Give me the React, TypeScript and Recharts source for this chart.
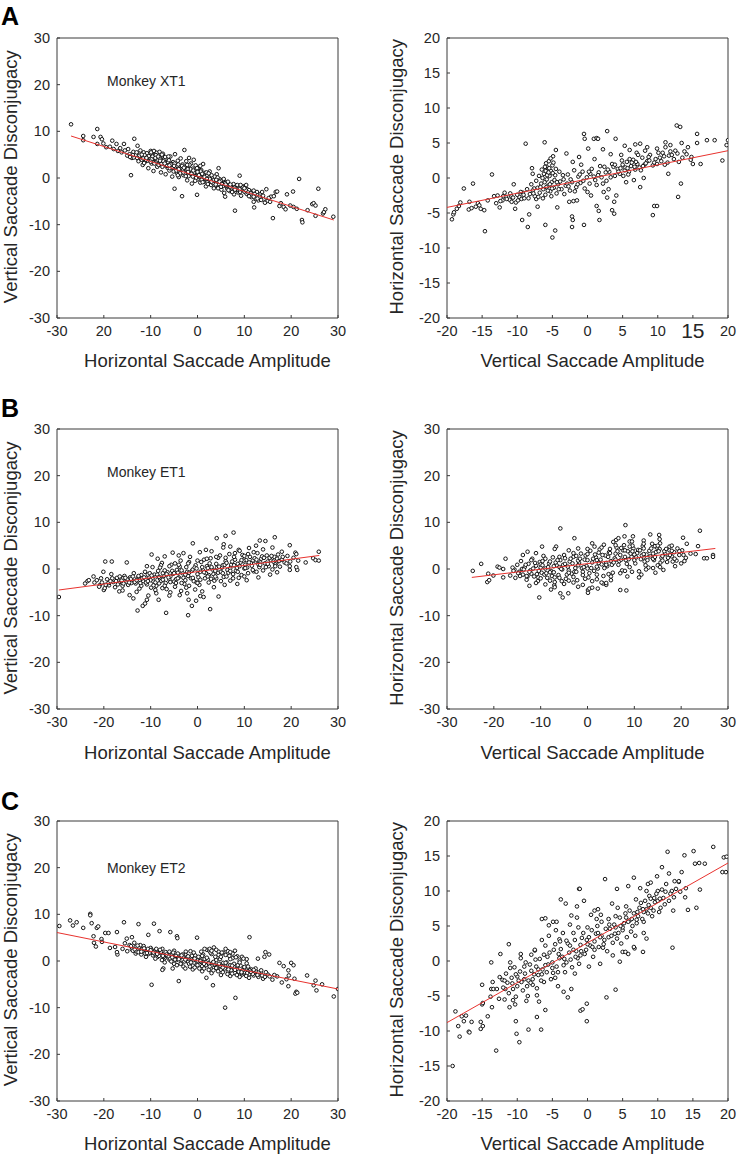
import { ScatterChart, Scatter, XAxis, YAxis } from 'recharts'

type Pt = [number, number]

const FONT = '"Liberation Sans", Arial, Helvetica, sans-serif'
const INK = '#262626'
const FRAME = '#3a3a3a'
const FIT_RED = '#e8322e'

// tick values
const ticks30 = [-30, -20, -10, 0, 10, 20, 30]
const ticks20 = [-20, -15, -10, -5, 0, 5, 10, 15, 20]
// panel A left prints "20" where -20 should be, kept as in the figure
const xt1HorizTickLabels = ['-30', '20', '-10', '0', '10', '20', '30']

// A left: Monkey XT1, horizontal amplitude vs vertical disconjugacy
const xt1Horiz: Pt[] = [
  [-27.0,11.5],[-24.4,9.0],[-24.4,8.1],[-22.2,8.8],[-21.4,10.5],[-21.4,7.3],[-20.7,8.8],[-20.4,8.3],[-20.1,7.4],[-19.5,6.6],
  [-18.7,6.7],[-18.2,8.0],[-17.9,6.2],[-17.3,7.3],[-17.0,5.8],[-16.5,6.4],[-16.2,5.5],[-15.7,7.3],[-15.5,5.9],[-15.0,4.8],
  [-14.8,6.2],[-14.5,5.1],[-14.2,0.6],[-14.0,4.3],[-13.7,5.6],[-13.5,8.4],[-13.2,4.9],[-12.8,6.9],[-12.6,3.6],[-12.3,5.3],
  [-12.0,4.1],[-11.7,2.8],[-11.5,5.5],[-11.2,3.5],[-11.0,4.6],[-10.8,5.3],[-10.5,2.1],[-10.3,4.0],[-10.0,5.8],[-9.8,3.1],
  [-9.6,4.8],[-9.4,1.5],[-9.2,5.6],[-9.0,3.8],[-8.8,4.5],[-8.6,2.4],[-8.4,5.0],[-8.2,3.3],[-8.0,4.4],[-7.8,1.2],
  [-7.6,3.9],[-7.4,5.2],[-7.2,2.7],[-7.0,3.5],[-6.8,0.8],[-6.6,4.1],[-6.4,2.2],[-6.2,3.0],[-6.0,1.6],[-5.8,4.6],
  [-5.6,2.5],[-5.4,0.3],[-5.2,3.4],[-5.0,1.9],[-4.9,-2.3],[-4.8,5.1],[-4.6,2.8],[-4.4,1.1],[-4.2,3.7],[-4.0,0.2],
  [-3.8,2.3],[-3.6,4.2],[-3.4,1.5],[-3.3,-3.9],[-3.2,2.9],[-3.0,0.6],[-2.8,6.0],[-2.6,1.8],[-2.4,3.6],[-2.2,-0.5],
  [-2.0,2.4],[-1.8,4.3],[-1.6,1.0],[-1.4,3.1],[-1.2,-1.2],[-1.0,2.0],[-0.8,3.9],[-0.6,0.4],[-0.4,2.7],[-0.2,1.4],
  [-0.1,-3.6],[0.0,-0.3],[0.2,2.2],[0.4,0.9],[0.6,-1.0],[0.8,1.7],[1.0,0.2],[1.2,3.0],[1.4,-0.8],[1.6,1.1],
  [1.8,-1.8],[2.0,0.5],[2.3,-0.6],[2.6,1.4],[2.9,-1.5],[3.2,0.0],[3.5,-2.2],[3.8,-0.7],[4.1,0.8],[4.5,2.1],
  [4.4,-1.6],[4.8,-0.3],[5.1,-2.5],[5.4,-1.2],[5.7,-3.2],[5.9,-4.0],[6.0,-0.9],[6.3,-2.0],[6.6,-1.4],[6.9,-2.8],
  [7.2,-1.6],[7.5,-2.4],[7.8,-3.5],[8.0,-7.0],[8.1,-1.7],[8.4,-2.6],[8.7,-3.1],[9.0,0.5],[9.0,-2.0],[9.3,-3.8],
  [9.6,-2.5],[9.9,-1.8],[10.2,-3.0],[10.4,-1.5],[10.6,-2.4],[10.9,-3.6],[11.2,-2.8],[11.5,-4.1],[11.8,-3.2],[12.0,-5.1],
  [12.1,-6.3],[12.4,-4.4],[12.7,-3.0],[13.0,-4.8],[13.4,-3.5],[13.8,-3.0],[14.1,-4.6],[14.4,-5.3],[14.7,-2.4],[15.0,-4.9],
  [15.5,-5.1],[15.7,-4.0],[16.1,-8.6],[16.3,-3.9],[16.7,-3.0],[17.0,-2.9],[17.5,-6.0],[17.8,-5.4],[18.4,-6.2],[18.8,-6.7],
  [19.1,-3.5],[19.8,-5.9],[20.4,-2.9],[20.5,-6.2],[21.2,-6.6],[21.7,-0.2],[22.3,-9.0],[22.4,-9.5],[23.5,-6.9],[24.5,-5.6],
  [24.8,-5.4],[25.2,-5.9],[25.2,-8.1],[25.8,-2.3],[26.8,-7.6],[27.0,-7.3],[27.3,-6.7],[29.0,-8.3],
  [-12.4,4.8],[-11.9,3.9],[-11.3,4.9],[-10.7,3.7],[-10.1,4.3],[-9.5,3.4],[-9.1,4.1],[-8.7,3.6],[-8.3,2.8],[-7.9,3.3],
  [-7.5,2.4],[-7.1,4.0],[-6.7,2.9],[-6.3,3.4],[-5.9,2.1],[-5.5,3.0],[-5.1,1.4],[-4.7,2.3],[-4.3,2.6],[-3.9,1.3],
  [-3.5,2.0],[-3.1,1.7],[-2.7,0.9],[-2.3,1.5],[-1.9,0.4],[-1.5,1.9],[-1.1,0.7],[-0.7,1.2],[-0.3,0.0],[0.1,1.0],
  [0.5,0.3],[0.9,-0.4],[1.3,0.6],[1.7,-0.2],[2.1,-0.9],[2.5,0.1],[2.8,-0.4],[3.3,-1.1],[3.7,0.3],[4.2,-0.9],
  [4.6,-1.3],[5.0,-0.6],[5.5,-1.7],[5.9,-1.1],[6.4,-2.4],[6.8,-1.8],[7.3,-2.2],[7.7,-1.3],[8.3,-2.3],[8.8,-2.7],
  [9.4,-2.3],[10.0,-2.9],[10.5,-3.4],[11.0,-2.6],[11.6,-3.7],[12.2,-3.4],[13.3,-4.0],[14.0,-3.8],[15.2,-4.3],
  [-9.9,5.5],[-9.3,5.8],[-8.7,5.4],[-8.1,5.6],[-7.6,5.0],[-9.6,4.6],
  [-11.6,4.2],[-11.0,3.9],[-10.4,4.7],[-9.8,4.0],[-9.2,3.1],[-8.9,4.9],[-8.5,3.9],[-8.1,4.2],[-7.7,3.0],[-7.3,3.6],
  [-6.9,4.5],[-6.5,2.6],[-6.1,3.8],[-5.7,2.9],[-5.3,2.2],[-4.9,3.1],[-4.5,1.6],[-4.1,2.9],[-3.7,1.0],[-3.3,2.6],
  [-2.9,2.2],[-2.5,0.4],[-2.1,1.9],[-1.7,2.8],[-1.3,0.9],[-0.9,1.6],[-0.5,-0.6],[-0.1,2.1],[0.3,0.6],[0.7,1.4],
  [1.1,-0.9],[1.5,0.2],[1.9,1.2],[2.2,-1.3],[2.6,-0.2],[3.0,0.6],[3.4,-0.5],[3.9,-1.4],[4.3,0.1],[4.7,-0.8],
  [5.2,-1.3],[5.6,-0.2],[6.1,-1.6],[6.5,-0.8],[7.0,-1.9],[7.4,-3.0],[7.9,-2.1],[8.5,-1.5],[9.1,-3.0],[9.7,-2.0],
  [10.3,-2.6],[10.8,-3.1],[11.4,-3.3],[12.0,-4.0],[12.8,-4.4],[13.6,-4.7],[-14.4,4.5],[-13.6,4.4],[-13.0,5.5],[-12.2,5.9],
  [-13.8,4.9],[-12.9,4.3],[-11.9,5.0],[-10.9,4.3],[-10.0,3.5],[-9.0,4.3],[-8.0,3.7],[-7.0,3.1],[-6.0,2.7],[-5.0,2.6],
  [-4.0,1.9],[-3.0,1.2],[-2.0,1.3],[-1.0,0.3],[0.0,1.3],[1.0,0.9],[2.0,-0.2],[3.0,-0.8],[4.0,-0.4],[5.0,-1.9],
  [6.0,-1.4],[7.0,-1.4],[8.0,-2.5],[9.0,-2.4],[10.0,-2.2],[11.0,-3.9],[12.0,-2.7],[-11.4,3.2],[-8.4,4.6],[-6.2,4.6],
  [-4.2,0.6],[-2.2,2.8],[0.6,2.6],[2.4,1.0],[4.4,-2.2],[6.6,-2.6],[9.2,-1.5],
]
const xt1HorizFit: Pt[] = [[-27, 9.0], [29.1, -9.0]]

// A right: Monkey XT1, vertical amplitude vs horizontal disconjugacy
const xt1Vert: Pt[] = [
  [-19.3,-5.9],[-19.1,-5.2],[-19.0,-4.9],[-18.6,-4.4],[-18.3,-4.0],[-18.1,-3.5],[-17.6,-1.5],[-16.9,-4.5],[-16.8,-3.4],[-16.5,-4.3],
  [-16.3,-0.8],[-15.9,-4.1],[-15.6,-3.6],[-15.4,-3.9],[-15.2,-4.4],[-14.7,-4.6],[-14.6,-7.6],[-14.2,-3.2],[-13.6,0.5],[-13.3,-2.6],
  [-13.0,-3.6],[-12.8,-2.5],[-12.5,-4.2],[-12.1,-3.2],[-11.6,-2.7],[-11.1,-3.1],[-10.9,-2.5],[-10.5,-0.9],[-10.3,-4.4],[-10.2,-3.5],
  [-9.7,-2.7],[-9.4,-3.0],[-9.3,-6.0],[-9.2,-2.1],[-8.8,4.9],[-8.5,-7.0],[-8.3,-5.2],[-7.9,1.4],[-7.8,0.6],[-7.6,-1.5],
  [-7.3,-3.0],[-7.1,-4.1],[-6.1,5.1],[-6.0,-6.7],[-5.0,-8.5],[-4.6,-7.5],[-4.9,3.1],[-4.5,4.0],[-4.3,-4.2],[-2.6,-3.4],
  [-2.2,-5.5],[-2.1,-6.0],[-2.2,-7.0],[-2.0,-3.3],[-0.5,6.3],[-0.4,5.6],[-0.5,-6.7],[0.1,4.2],[0.9,5.6],[1.3,5.7],
  [1.5,5.6],[1.3,-4.0],[1.6,-4.7],[1.7,-6.0],[2.8,6.7],[2.8,-2.8],[4.0,5.6],[3.8,-3.4],[3.5,-4.6],[3.8,-5.1],
  [4.1,-2.5],[5.3,4.6],[6.8,4.8],[7.5,4.9],[7.5,-1.3],[8.0,0.0],[8.2,3.9],[8.5,4.4],[9.3,-5.3],[9.5,-4.0],
  [9.9,-4.0],[9.9,4.2],[11.1,4.4],[11.1,5.1],[11.5,0.6],[11.8,4.7],[12.7,7.5],[13.2,7.3],[12.9,-2.7],[13.3,-0.8],
  [13.4,5.0],[14.3,4.4],[14.7,2.6],[15.0,2.0],[15.6,6.3],[15.6,5.0],[16.1,2.0],[17.0,5.4],[18.1,5.4],[19.2,2.5],
  [19.8,4.7],[20.0,5.4],
  [-12.0,-2.6],[-11.5,-3.0],[-11.0,-2.2],[-10.6,-2.8],[-10.0,-2.4],[-9.5,-2.0],[-9.0,-2.9],[-8.6,-1.6],[-8.2,-2.3],[-8.0,-0.9],
  [-7.8,-1.8],[-7.5,-2.6],[-7.3,-0.4],[-7.1,-1.4],[-6.9,0.3],[-6.8,-2.1],[-6.6,-0.8],[-6.5,1.2],[-6.3,-1.6],[-6.2,0.6],
  [-6.0,-2.4],[-5.9,2.1],[-5.8,-0.2],[-5.7,1.5],[-5.6,-1.1],[-5.5,2.4],[-5.4,0.3],[-5.3,-1.9],[-5.2,1.0],[-5.1,-0.6],
  [-5.0,1.8],[-4.8,-1.4],[-4.6,0.4],[-4.4,-2.2],[-4.2,-0.9],[-4.0,0.9],[-3.7,-1.6],[-3.4,-0.2],[-3.1,-1.1],[-2.8,0.5],
  [-2.5,-1.8],[-2.2,-0.6],[-1.9,1.1],[-1.6,-1.3],[-1.3,0.2],[-1.0,-0.7],[-0.7,0.9],[-0.4,-1.5],[-0.1,0.1],[0.3,-0.8],
  [0.6,1.3],[0.9,0.2],[1.3,-1.0],[1.6,0.8],[2.0,0.1],[2.4,1.6],[2.7,-0.4],[3.1,0.9],[3.5,2.0],[3.9,0.3],
  [4.3,1.3],[4.6,0.6],[5.0,1.9],[5.3,1.1],[5.6,2.3],[5.9,0.9],[6.2,1.7],[6.5,2.6],[6.8,1.2],[7.1,2.0],
  [7.4,1.5],[7.8,2.9],[8.1,1.9],[8.5,2.4],[8.9,3.3],[9.3,1.8],[9.7,2.7],[10.1,3.6],[10.5,2.4],[10.9,3.1],
  [11.4,2.2],[11.8,3.8],[12.3,2.7],[12.8,3.5],[13.5,2.9],[14.1,3.4],[14.8,3.0],
  [3.3,3.4],[2.2,4.1],[-1.2,3.0],[-2.1,2.3],[-3.0,3.5],[-0.9,1.9],[1.0,2.7],[4.8,3.3],[6.0,4.0],[7.0,3.6],
  [0.5,-2.5],[2.3,-2.0],[-1.5,-3.2],[5.5,-0.6],[6.6,-0.3],[3.0,-1.6],
  [-7.0,-2.7],[-6.7,-1.3],[-6.4,0.0],[-6.1,-0.6],[-5.95,1.0],[-5.75,0.4],[-5.65,-1.8],[-5.45,1.4],[-5.35,-0.9],[-5.25,2.8],
  [-5.15,-2.6],[-4.95,0.7],[-4.7,-0.3],[-4.5,1.3],[-4.1,-1.6],[-3.9,-0.5],[-3.3,-2.3],[-2.9,-0.8],[-2.4,-0.2],[-1.8,-1.9],
  [-1.1,0.5],[-0.6,-0.4],[0.0,-2.0],[0.4,0.6],[1.1,-0.3],[1.8,1.7],[2.2,-0.8],[2.9,1.2],[3.3,0.1],[3.7,1.6],
  [4.4,0.9],[4.9,2.5],[5.4,1.5],[5.8,0.5],[6.3,2.2],[6.7,1.6],[7.2,3.3],[7.6,1.1],[8.3,2.1],[8.7,3.0],
  [9.5,2.2],[10.3,2.9],[11.0,1.9],[11.6,3.2],[12.5,3.9],[13.8,3.8],[-12.4,-3.3],[-11.8,-2.1],[-10.8,-3.4],[-9.9,-3.2],
  [-9.1,-2.4],[-8.4,-2.9],[-7.7,-2.2],
  [-6.35,-2.9],[-6.05,1.6],[-5.85,-1.3],[-5.55,0.8],[-5.05,-1.5],[-4.85,2.2],[-4.35,-0.6],[-3.5,0.4],[-2.7,-1.2],[-1.4,-0.9],
  [0.2,0.9],[1.5,0.4],[2.6,0.8],[3.9,1.9],[4.7,1.4],[5.1,0.3],[5.7,1.4],[6.0,2.7],[6.9,2.3],[7.9,1.7],
  [8.8,2.5],[9.9,2.0],[10.7,3.6],[12.0,3.3],[13.0,2.3],
]
const xt1VertFit: Pt[] = [[-20, -4.2], [20, 3.9]]

// B left: Monkey ET1, horizontal
const et1Horiz: Pt[] = [
  [-29.6,-6.0],[-24.0,-3.1],[-23.5,-2.6],[-23.2,-2.4],[-22.2,-1.6],[-22.0,-2.9],[-20.8,-3.4],[-20.0,-4.5],[-20.1,-0.6],[-19.7,1.6],
  [-18.3,1.6],[-16.7,-4.8],[-15.1,1.4],[-14.5,-5.6],[-13.7,-6.3],[-12.8,-8.9],[-11.7,-7.9],[-11.2,-7.4],[-10.8,-6.6],[-10.5,-5.7],
  [-9.8,3.1],[-8.3,-6.6],[-6.7,-9.4],[-5.3,3.5],[-1.9,-6.6],[-2.0,-9.9],[-1.0,5.5],[-1.2,-7.9],[-0.3,-6.8],[0.6,-5.8],
  [1.3,-6.0],[2.7,-8.6],[4.5,-5.9],[4.1,6.6],[6.0,7.1],[7.7,7.8],[5.6,5.3],[8.8,4.1],[13.3,6.1],[14.5,6.0],
  [16.5,6.8],[19.7,5.1],[18.0,3.7],[19.7,0.6],[19.7,-0.2],[21.3,-0.2],[21.1,0.4],[20.9,3.5],[21.1,3.2],[23.1,1.4],
  [24.7,2.3],[25.2,1.9],[25.9,3.7],[25.9,1.8],
  [-21.5,-2.4],[-21.0,-3.8],[-20.4,-2.9],[-19.8,-4.1],[-19.3,-2.2],[-18.9,-3.5],[-18.4,-1.1],[-18.0,-2.8],[-17.6,-3.9],[-17.2,-1.9],
  [-16.8,-3.0],[-16.4,-2.1],[-16.0,-3.6],[-15.6,-1.5],[-15.2,-2.7],[-14.8,-3.4],[-14.4,-1.8],[-14.0,-2.5],[-13.6,-0.9],[-13.2,-3.1],
  [-12.8,-2.0],[-12.4,-4.2],[-12.0,-1.3],[-11.6,-2.6],[-11.2,-0.6],[-10.8,-3.3],[-10.4,-1.7],[-10.0,-2.4],[-9.6,0.4],[-9.2,-1.2],
  [-8.8,-3.6],[-8.4,-0.4],[-8.0,-2.1],[-7.6,1.3],[-7.2,-1.5],[-6.8,-3.0],[-6.4,-0.7],[-6.0,-2.3],[-5.6,0.9],[-5.2,-1.0],
  [-4.8,-3.8],[-4.4,-0.2],[-4.0,-1.8],[-3.6,1.8],[-3.2,-0.9],[-2.8,-3.2],[-2.4,0.4],[-2.0,-1.5],[-1.6,2.6],[-1.2,-0.4],
  [-0.8,-2.6],[-0.4,0.8],[0.0,-1.1],[0.4,-3.4],[0.8,1.5],[1.2,-0.3],[1.6,-2.0],[2.0,0.6],[2.4,-1.3],[2.8,2.3],
  [3.2,-0.1],[3.6,-2.5],[4.0,1.1],[4.4,-0.8],[4.8,2.9],[5.2,0.3],[5.6,-1.7],[6.0,1.7],[6.4,-0.2],[6.8,3.2],
  [7.2,0.9],[7.6,-1.1],[8.0,2.0],[8.4,0.2],[8.8,-1.9],[9.2,1.4],[9.6,3.0],[10.0,0.1],[10.4,1.9],[10.8,-0.9],
  [11.2,2.6],[11.6,0.7],[12.0,-0.5],[12.4,1.6],[12.8,3.4],[13.2,0.4],[13.6,2.2],[14.0,-0.3],[14.4,1.2],[14.8,2.9],
  [15.2,0.6],[15.6,1.9],[16.0,-0.1],[16.4,2.6],[16.8,1.2],[17.2,3.1],[17.6,0.5],[18.0,2.0],[18.6,1.4],[19.2,2.8],
  [19.8,1.6],[20.5,2.4],[21.5,1.8],
  [-8.5,2.2],[-7.0,2.7],[-4.0,2.9],[-3.0,3.4],[0.5,3.6],[1.8,4.1],[3.0,3.8],[5.5,4.6],[7.0,4.8],[9.0,3.9],
  [11.0,4.5],[12.5,5.0],[14.0,4.2],[16.0,4.6],
  [-16.0,-4.6],[-13.0,-4.9],[-9.0,-4.5],[-7.5,-4.1],[-5.8,-5.0],[-3.5,-4.7],[-2.2,-5.2],[-0.5,-4.4],[1.0,-4.8],[3.5,-3.9],
  [5.8,-3.4],[8.5,-3.2],[10.5,-2.4],[13.0,-1.8],[15.5,-1.2],[17.0,-0.7],
  [-17.8,-2.3],[-15.9,-2.0],[-14.1,-3.0],[-12.3,-2.3],[-10.6,-1.2],[-9.0,-1.8],[-7.4,-0.9],[-5.8,-1.6],[-4.2,-0.8],[-2.6,-1.2],
  [-1.0,-0.1],[0.6,-0.6],[2.2,0.2],[3.8,-0.4],[5.4,0.8],[7.0,0.2],[8.6,1.1],[10.2,0.9],[11.8,1.8],[13.4,1.4],
  [15.0,1.6],[16.6,1.0],
  [-19.0,-3.0],[-18.2,-2.0],[-17.4,-2.6],[-16.6,-1.6],[-15.8,-3.1],[-15.0,-2.2],[-14.2,-2.1],[-13.4,-2.8],[-12.6,-1.5],[-11.8,-2.0],
  [-11.0,-2.9],[-10.2,-0.9],[-9.4,-2.7],[-8.6,-1.2],[-7.8,-2.6],[-7.0,-0.3],[-6.2,-1.8],[-5.4,-0.4],[-4.6,-2.2],[-3.8,0.5],
  [-3.0,-1.9],[-2.2,-0.6],[-1.4,-2.0],[-0.6,0.3],[0.2,-1.8],[1.0,0.4],[1.8,-0.9],[2.6,1.2],[3.4,-1.1],[4.2,0.3],
  [5.0,-0.6],[5.8,0.9],[6.6,-0.8],[7.4,1.6],[8.2,-0.4],[9.0,0.6],[9.8,1.8],[10.6,0.3],[11.4,1.3],[12.2,2.3],
  [13.0,1.0],[13.8,2.7],[14.6,0.4],[15.4,2.4],[16.2,1.6],[17.0,2.2],[-9.9,-4.0],[-6.6,-4.3],[-3.4,-3.0],[-0.2,-2.9],
  [2.9,-2.1],[6.2,-1.6],[9.4,-1.3],[12.6,-0.6],[-10.8,0.6],[-7.8,0.8],[-4.8,1.2],[-1.8,1.5],[1.4,2.0],[4.4,2.4],
  [7.8,2.6],[10.8,3.2],[-12.0,-3.6],[-8.2,-3.1],[-5.0,-2.7],[-1.8,-3.6],[4.0,-2.0],[7.0,-2.5],
  [-20.6,-2.0],[-19.6,-3.4],[-18.6,-2.6],[-17.0,-3.3],[-16.2,-2.5],[-15.4,-1.9],[-14.6,-2.9],[-13.8,-1.6],[-13.0,-2.4],[-12.2,-3.0],
  [-11.4,-1.8],[-10.6,-2.6],[-9.8,-1.4],[-9.0,-2.9],[-8.2,-1.7],[-7.4,-2.3],[-6.6,-1.1],[-5.8,-2.8],[-5.0,-0.9],[-4.2,-2.0],
  [-3.4,-0.3],[-2.6,-2.4],[-1.8,-0.8],[-1.0,-1.9],[-0.2,0.1],[0.6,-2.3],[1.4,-0.7],[2.2,-1.6],[3.0,0.4],[3.8,-1.6],
  [4.6,0.5],[5.4,-0.9],[6.2,1.3],[7.0,-0.4],[7.8,0.8],[8.6,-0.6],[9.4,1.9],[10.2,0.2],[11.0,1.4],[11.8,-0.2],
  [12.6,2.0],[13.4,0.9],[14.2,2.4],[15.0,1.1],[15.8,2.8],[16.6,0.6],[17.4,1.7],[18.2,2.6],[19.0,1.2],[-8.0,0.3],
  [-6.0,0.6],[-4.0,0.9],[-2.0,1.2],[0.0,1.8],[2.0,2.2],[4.0,2.6],[6.0,2.4],[8.0,3.4],[10.0,2.8],[12.0,3.6],
  [-9.4,-3.5],[-7.0,-3.6],[-4.6,-3.0],[-2.4,-4.0],[0.0,-3.0],[2.4,-2.9],[5.0,-2.6],[7.6,-2.0],[10.0,-1.6],[-3.8,-5.6],
  [-6.0,-5.7],[-8.8,-5.2],
]
const et1HorizFit: Pt[] = [[-29.6, -4.5], [26, 2.9]]

// B right: Monkey ET1, vertical
const et1Vert: Pt[] = [
  [-24.5,-0.4],[-22.7,1.1],[-21.4,-2.8],[-21.0,-2.4],[-21.2,-1.0],[-20.1,-1.4],[-19.2,0.5],[-18.8,0.3],[-18.0,0.0],[-17.5,2.2],
  [-18.0,-1.8],[-15.6,-0.1],[-13.8,3.0],[-12.8,3.7],[-12.4,-3.6],[-10.3,-6.1],[-9.7,4.8],[-11.0,3.4],[-7.8,-4.4],[-7.1,-3.5],
  [-5.8,8.7],[-5.8,-5.2],[-5.3,-6.1],[-4.1,-5.2],[-6.7,4.8],[-2.8,6.6],[0.1,-4.5],[0.1,-5.1],[0.4,-4.2],[2.2,-4.2],
  [3.3,-3.1],[4.0,-3.4],[1.0,5.5],[7.0,-4.5],[8.3,-4.6],[8.1,9.4],[6.1,6.2],[6.6,6.6],[7.9,7.0],[9.7,7.0],
  [9.0,5.9],[13.4,7.4],[15.3,7.3],[15.4,6.4],[17.5,4.8],[20.4,6.7],[18.7,0.6],[20.0,1.2],[20.7,1.7],[21.2,5.4],
  [24.0,8.2],[23.6,4.9],[23.1,3.2],[24.9,2.3],[25.5,2.3],[26.8,3.0],[26.8,2.6],
  [-16.5,-1.4],[-16.0,0.3],[-15.4,-1.9],[-15.0,0.9],[-14.6,-0.6],[-14.2,1.7],[-13.8,-1.2],[-13.4,0.4],[-13.0,-2.3],[-12.6,1.1],
  [-12.2,-0.3],[-11.8,2.2],[-11.4,-1.6],[-11.0,0.7],[-10.6,-2.6],[-10.2,1.5],[-9.8,-0.8],[-9.4,2.8],[-9.0,0.1],[-8.6,-1.9],
  [-8.2,1.2],[-7.8,-0.4],[-7.4,2.5],[-7.0,-2.8],[-6.6,0.8],[-6.2,-1.3],[-5.8,1.9],[-5.4,-0.1],[-5.0,3.0],[-4.6,-2.1],
  [-4.2,0.5],[-3.8,1.6],[-3.4,-1.0],[-3.0,2.6],[-2.6,0.2],[-2.2,-2.4],[-1.8,1.3],[-1.4,3.3],[-1.0,-0.6],[-0.6,2.0],
  [-0.2,0.6],[0.2,-1.8],[0.6,3.9],[1.0,1.4],[1.4,-0.4],[1.8,2.5],[2.2,0.1],[2.6,4.2],[3.0,1.0],[3.4,-1.5],
  [3.8,2.9],[4.2,0.6],[4.6,3.6],[5.0,1.7],[5.4,-0.8],[5.8,2.3],[6.2,4.6],[6.6,0.9],[7.0,3.0],[7.4,-0.3],
  [7.8,5.1],[8.2,1.9],[8.6,3.8],[9.0,0.4],[9.4,2.6],[9.8,4.4],[10.2,1.2],[10.6,3.4],[11.0,-0.5],[11.4,2.1],
  [11.8,4.9],[12.2,1.6],[12.6,3.1],[13.0,0.3],[13.4,2.7],[13.8,5.4],[14.2,1.9],[14.6,3.6],[15.0,0.8],[15.4,4.3],
  [15.8,2.4],[16.2,-0.2],[16.6,3.2],[17.0,1.5],[17.5,4.0],[18.0,2.7],[18.5,3.6],[19.0,1.8],[19.6,3.0],[20.2,4.0],
  [21.0,2.4],[22.0,3.3],
  [-14.0,0.0],[-12.0,-1.0],[-10.0,0.3],[-8.0,-0.7],[-6.0,0.4],[-4.0,-0.3],[-2.0,0.8],[0.0,0.1],[2.0,1.9],[4.0,1.3],
  [6.0,2.0],[8.0,2.6],[10.0,3.1],[12.0,2.5],[14.0,3.3],[16.0,2.8],[18.0,3.9],
  [-11.0,-3.0],[-9.0,-3.3],[-7.0,-3.9],[-5.0,-3.2],[-3.0,-2.9],[-1.0,-3.4],[1.0,-2.6],[3.0,-2.9],[5.0,-2.4],[8.5,-1.6],
  [11.5,-1.2],[14.5,-0.8],
  [-7.0,4.3],[-4.0,4.0],[-2.0,4.4],[1.5,4.8],[3.5,5.2],[5.5,5.8],[9.5,5.9],[12.0,6.1],[15.5,5.5],[18.0,5.0],
  [-14.8,-0.9],[-13.6,-0.1],[-12.8,-1.6],[-11.6,0.1],[-10.8,-1.1],[-10.0,1.0],[-9.2,-1.2],[-8.4,0.4],[-7.6,-1.5],[-6.8,1.4],
  [-6.0,-1.9],[-5.2,0.9],[-4.4,-1.2],[-3.6,2.2],[-2.8,-0.6],[-2.0,1.8],[-1.2,0.2],[-0.4,2.9],[0.4,-0.9],[1.2,2.2],
  [2.0,0.5],[2.8,2.0],[3.6,0.2],[4.4,2.6],[5.2,0.9],[6.0,3.3],[6.8,1.7],[7.6,4.0],[8.4,1.1],[9.2,3.3],
  [10.0,1.9],[10.8,4.1],[11.6,2.9],[12.4,0.8],[13.2,3.9],[14.0,2.2],[14.8,4.6],[15.6,1.4],[16.4,3.8],[17.2,2.4],
  [18.2,1.6],[19.2,4.4],[20.5,3.0],
  [-12.0,1.9],[-9.6,1.7],[-7.2,0.6],[-4.8,1.1],[-2.4,2.8],[0.0,3.2],[2.4,3.5],[4.8,4.3],[7.2,4.5],[9.6,5.0],
  [12.0,4.4],[14.4,4.9],
  [-13.0,-1.5],[-10.5,-1.8],[-8.0,-2.5],[-5.5,-2.6],[-3.0,-1.7],[-0.5,-2.1],[2.0,-1.2],[4.5,-1.1],[7.0,-0.9],[9.5,-0.6],
  [12.5,-0.1],[15.5,0.4],
  [-15.8,-0.4],[-14.4,-1.5],[-13.2,0.9],[-12.4,-0.6],[-11.2,1.3],[-10.4,-0.4],[-9.6,0.8],[-8.8,-0.9],[-8.0,1.6],[-7.2,-0.7],
  [-6.4,1.9],[-5.6,0.0],[-4.8,2.3],[-4.0,-0.8],[-3.2,1.2],[-2.4,-0.6],[-1.6,2.2],[-0.8,0.4],[0.0,1.9],[0.8,0.2],
  [1.6,3.1],[2.4,1.3],[3.2,3.0],[4.0,0.9],[4.8,3.4],[5.6,1.4],[6.4,3.8],[7.2,2.0],[8.0,4.0],[8.8,2.1],
  [9.6,3.8],[10.4,2.5],[11.2,4.0],[12.0,3.2],[12.8,1.9],[13.6,4.4],[14.4,2.6],[15.2,3.8],[16.0,1.8],[16.8,4.3],
  [17.6,3.0],[18.6,2.2],[19.6,3.8],
  [-9.0,2.2],[-6.0,2.6],[-3.0,3.4],[0.0,4.3],[3.0,4.6],[6.0,5.1],[9.0,4.8],[12.0,5.4],[15.0,5.0],
  [-10.0,-2.0],[-7.0,-1.8],[-4.0,-2.5],[-1.0,-1.3],[2.0,-2.2],[5.0,-1.6],[8.0,-0.4],[11.0,-1.8],[14.0,0.2],[-2.0,-3.8],
  [1.0,-4.0],[4.0,-3.0],
]
const et1VertFit: Pt[] = [[-24.7, -1.8], [27.3, 4.4]]

// C left: Monkey ET2, horizontal
const et2Horiz: Pt[] = [
  [-29.5,7.5],[-27.2,8.7],[-26.6,7.6],[-25.8,8.3],[-24.4,7.1],[-22.9,10.1],[-22.9,9.8],[-22.6,8.1],[-21.5,7.1],[-21.2,7.4],
  [-22.2,5.3],[-22.1,3.9],[-21.7,3.1],[-20.5,4.7],[-20.4,4.1],[-19.7,6.0],[-19.0,6.0],[-18.7,2.8],[-17.6,3.0],[-17.2,6.2],
  [-17.1,1.4],[-17.2,1.9],[-15.7,8.3],[-15.1,4.8],[-14.0,5.1],[-13.2,1.6],[-12.6,7.9],[-10.5,5.6],[-9.8,-5.1],[-9.3,8.0],
  [-8.1,6.4],[-7.3,-1.6],[-7.5,-1.9],[-5.8,6.2],[-5.3,-1.6],[-4.4,5.3],[-4.3,4.9],[-4.0,-4.3],[-0.1,5.0],[1.9,-3.6],
  [3.3,-5.2],[5.9,-10.0],[8.1,-7.9],[11.1,5.1],[14.5,1.9],[15.3,1.4],[14.3,0.9],[12.9,0.5],[17.5,-0.4],[18.4,-1.1],
  [19.4,-2.0],[20.0,-0.4],[20.5,-0.9],[19.5,-3.1],[20.7,-3.8],[19.4,-5.4],[21.1,-6.6],[20.9,-7.0],[21.3,-6.8],[23.4,-3.1],
  [25.2,-4.2],[24.8,-5.2],[25.4,-6.3],[26.6,-5.0],[29.1,-7.6],[30.0,-6.0],
  [-16.0,2.6],[-15.5,3.8],[-15.0,2.1],[-14.5,3.4],[-14.0,2.5],[-13.5,3.9],[-13.0,2.0],[-12.5,2.9],[-12.0,1.4],[-11.5,3.2],
  [-11.0,2.2],[-10.5,1.5],[-10.0,2.8],[-9.5,1.2],[-9.0,2.3],[-8.5,0.9],[-8.0,1.9],[-7.5,2.6],[-7.0,0.6],[-6.5,1.7],
  [-6.0,0.3],[-5.5,1.5],[-5.0,2.2],[-4.5,0.2],[-4.0,1.3],[-3.5,-0.4],[-3.0,0.9],[-2.5,2.0],[-2.0,-0.2],[-1.5,0.7],
  [-1.0,-1.0],[-0.5,1.2],[0.0,-0.3],[0.5,0.8],[1.0,-1.1],[1.5,0.4],[2.0,2.4],[2.5,-0.6],[3.0,1.5],[3.5,-1.5],
  [4.0,0.2],[4.5,2.0],[5.0,-1.9],[5.5,-0.4],[6.0,1.3],[6.5,-2.3],[7.0,-0.9],[7.5,0.6],[8.0,-2.6],[8.5,-1.2],
  [9.0,0.1],[9.5,-2.9],[10.0,-1.6],[10.5,-0.5],[11.0,-2.9],[11.5,-1.8],[12.0,-3.1],[12.5,-2.2],[13.0,-3.4],[13.5,-2.5],
  [14.0,-3.8],[15.0,-2.9],[16.0,-4.0],[17.0,-3.3],[18.0,-4.6],[19.0,-3.9],
  [-12.0,2.4],[-10.8,2.0],[-9.6,2.0],[-8.4,1.6],[-7.2,1.4],[-6.0,1.2],[-4.8,1.0],[-3.6,0.8],[-2.4,0.5],[-1.2,0.3],
  [0.0,0.1],[1.2,-0.2],[2.4,-0.5],[3.6,-0.7],[4.8,-1.0],[6.0,-1.2],[7.2,-1.4],[8.4,-1.8],[9.6,-2.0],[10.8,-2.2],
  [12.0,-2.5],[13.2,-2.8],
  [-11.0,0.9],[-9.0,0.5],[-7.0,-0.3],[-5.0,-0.6],[-3.0,-1.2],[-1.0,-1.8],[1.0,-2.2],[3.0,-2.6],[5.0,-3.0],[7.0,-3.2],
  [9.0,-3.4],[11.0,-3.6],
  [1.5,2.6],[2.5,2.2],[3.5,2.9],[4.5,1.3],[5.5,1.8],[6.5,2.1],[7.5,1.6],[8.5,1.0],[9.5,0.9],[10.5,0.4],
  [-1.5,2.1],[-2.5,1.3],
  [-13.8,2.2],[-13.2,3.0],[-12.6,1.9],[-12.2,3.4],[-11.8,2.5],[-11.2,1.6],[-10.6,2.6],[-10.2,1.8],[-9.8,2.4],[-9.2,1.6],
  [-8.8,2.6],[-8.2,1.1],[-7.8,2.0],[-7.2,0.9],[-6.8,1.9],[-6.2,1.0],[-5.8,0.5],[-5.2,1.8],[-4.8,0.3],[-4.2,1.6],
  [-3.8,0.6],[-3.2,1.4],[-2.8,-0.1],[-2.2,0.9],[-1.8,-0.6],[-1.2,1.1],[-0.8,0.2],[-0.2,-0.8],[0.2,0.9],[0.8,-0.2],
  [1.2,1.4],[1.8,-0.9],[2.2,0.3],[2.8,1.8],[3.2,-0.4],[3.8,0.9],[4.2,-1.3],[4.8,0.4],[5.2,1.8],[5.8,-1.6],
  [6.2,-0.3],[6.8,1.1],[7.2,-2.0],[7.8,-0.6],[8.2,0.8],[8.8,-2.3],[9.2,-1.0],[9.8,0.5],[10.2,-2.5],[10.8,-1.2],
  [11.2,-2.0],[11.8,-2.8],[12.4,-1.6],[13.0,-2.5],[13.8,-3.1],[14.6,-2.4],
  [-4.4,-0.9],[-2.6,-1.6],[-0.6,-1.4],[1.4,-1.6],[3.4,-2.0],[5.4,-2.4],[7.4,-2.7],[9.4,-2.6],
  [0.8,2.0],[2.6,2.6],[4.0,2.4],[6.0,2.6],[7.0,1.9],[8.0,2.2],
  [-14.2,3.2],[-13.4,2.5],[-12.8,3.3],[-12.0,2.0],[-11.4,2.7],[-10.8,1.7],[-10.0,2.3],[-9.4,1.8],[-8.6,1.5],[-8.0,2.4],
  [-7.4,1.1],[-6.6,1.4],[-6.0,2.0],[-5.4,0.8],[-4.6,1.1],[-4.0,0.4],[-3.4,1.2],[-2.6,0.3],[-2.0,1.0],[-1.4,-0.3],
  [-0.6,0.5],[0.0,-0.9],[0.6,0.0],[1.4,-0.6],[2.0,0.7],[2.6,-1.2],[3.4,-0.2],[4.0,-1.5],[4.6,-0.6],[5.4,-1.4],
  [6.0,-0.4],[6.6,-1.8],[7.4,-1.0],[8.0,-1.9],[8.6,-0.9],[9.4,-2.4],[10.0,-1.3],[10.6,-2.6],[11.4,-2.3],[12.0,-1.9],
  [12.8,-3.0],[13.6,-2.0],[14.4,-3.4],[15.4,-3.3],[16.4,-3.0],[-7.6,0.2],[-5.6,-0.1],[-3.6,-0.6],[-1.6,-1.2],[0.4,-1.6],
  [2.4,-1.9],[4.4,-2.2],[6.4,-2.8],[8.4,-3.0],[10.4,-3.2],[3.0,2.2],[5.0,0.9],[7.0,0.4],[9.0,-0.3],[-0.8,1.8],
  [1.0,1.1],
]
const et2HorizFit: Pt[] = [[-30, 6.1], [30, -6.0]]

// C right: Monkey ET2, vertical
const et2Vert: Pt[] = [
  [-19.2,-15.0],[-18.8,-7.2],[-18.4,-9.3],[-18.2,-10.8],[-17.9,-7.9],[-17.3,-7.8],[-17.6,-8.6],[-16.9,-10.1],[-16.8,-10.2],[-16.5,-8.7],
  [-15.2,-8.7],[-15.0,-6.2],[-14.9,-6.0],[-15.2,-9.7],[-14.9,-9.3],[-15.0,-3.4],[-14.2,-7.9],[-13.8,-5.1],[-13.7,-4.0],[-13.4,-4.0],
  [-13.7,-0.2],[-13.5,-3.0],[-13.0,-12.8],[-13.6,-6.6],[-12.9,-4.0],[-12.4,1.0],[-12.5,-2.3],[-12.1,-2.7],[-11.8,-5.5],[-11.7,-4.0],
  [-11.2,2.4],[-11.1,-6.6],[-11.0,-0.2],[-10.7,-3.2],[-10.3,-6.2],[-10.2,-5.1],[-10.1,-10.4],[-10.2,-8.6],[-9.7,-11.6],[-9.5,1.0],
  [-8.7,-5.7],[-8.4,-9.8],[-7.5,1.5],[-7.2,-8.0],[-7.2,-4.9],[-6.6,-9.8],[-6.5,6.0],[-6.0,6.1],[-6.0,-7.0],[-5.5,5.1],
  [-4.9,5.6],[-4.4,5.6],[-4.2,-3.6],[-3.8,8.8],[-3.1,8.2],[-2.8,-5.2],[-2.3,-4.0],[-2.3,6.5],[-1.5,7.8],[-1.2,10.3],
  [-1.1,10.3],[-1.0,-7.1],[-0.7,-6.9],[-0.5,8.6],[-0.1,-6.1],[-0.1,-8.6],[1.0,7.2],[1.9,6.6],[2.5,11.7],[2.7,-5.2],
  [4.0,-4.1],[4.2,10.3],[4.6,-0.1],[5.0,1.3],[5.4,1.3],[5.8,10.7],[6.6,11.9],[6.7,1.8],[8.0,4.0],[7.9,1.3],
  [8.6,11.0],[9.9,12.1],[10.6,13.4],[11.4,15.6],[11.6,12.5],[12.1,1.9],[12.2,7.2],[12.3,9.1],[12.6,10.3],[13.0,11.3],
  [13.4,12.7],[13.8,15.1],[13.9,9.1],[14.3,7.3],[15.1,15.7],[15.3,13.9],[15.5,7.6],[15.9,14.0],[16.0,10.2],[16.7,13.9],
  [17.9,16.3],[19.2,12.7],[19.4,14.8],[19.7,12.7],[19.8,14.9],
  [-12.0,-3.8],[-11.6,-1.8],[-11.2,-4.6],[-10.8,-2.4],[-10.4,-0.9],[-10.0,-3.6],[-9.6,-1.5],[-9.2,-4.2],[-8.8,-0.2],[-8.4,-2.8],
  [-8.0,0.9],[-7.6,-1.9],[-7.2,-3.9],[-6.8,0.3],[-6.4,-1.2],[-6.0,2.2],[-5.6,-0.5],[-5.2,-2.6],[-4.8,1.6],[-4.4,-0.8],
  [-4.0,3.1],[-3.6,0.6],[-3.2,-1.6],[-2.8,2.5],[-2.4,0.2],[-2.0,4.0],[-1.6,1.4],[-1.2,-0.4],[-0.8,3.3],[-0.4,1.0],
  [0.0,4.8],[0.4,2.2],[0.8,0.6],[1.2,3.9],[1.6,2.0],[2.0,5.6],[2.4,3.0],[2.8,1.4],[3.2,4.6],[3.6,2.6],
  [4.0,6.4],[4.4,4.0],[4.8,2.5],[5.2,5.4],[5.6,3.4],[6.0,7.2],[6.4,5.0],[6.8,3.6],[7.2,6.4],[7.6,8.3],
  [8.0,5.6],[8.4,7.4],[8.8,9.3],[9.2,6.4],[9.6,8.4],[10.0,10.0],[10.4,7.6],[10.8,9.0],[11.2,11.0],[11.6,8.6],
  [12.0,10.0],[13.0,11.4],[14.0,10.4],
  [-10.0,-2.2],[-9.0,-2.6],[-8.0,-1.4],[-7.0,-2.0],[-6.0,-0.6],[-5.0,-1.0],[-4.0,0.4],[-3.0,-0.2],[-2.0,1.6],[-1.0,0.8],
  [0.0,2.4],[1.0,1.6],[2.0,3.6],[3.0,3.4],[4.0,4.8],[5.0,4.4],[6.0,5.8],[7.0,5.4],[8.0,7.0],[9.0,7.6],
  [10.0,8.6],
  [-9.5,0.4],[-7.5,1.6],[-6.5,3.0],[-5.5,3.6],[-4.5,4.4],[-3.5,4.0],[-2.5,5.2],[-1.5,6.2],[0.5,6.6],[1.5,7.4],
  [3.5,8.2],[5.5,7.8],[7.5,10.4],[9.0,11.2],
  [-8.5,-5.0],[-7.8,-3.4],[-6.2,-3.0],[-4.6,-2.4],[-3.4,-4.4],[-1.8,-1.8],[0.2,-0.8],[1.8,-0.4],[3.6,0.8],[5.8,1.0],
  [6.6,2.0],[8.4,3.2],
  [-11.4,-3.1],[-10.6,-4.0],[-10.2,-1.9],[-9.4,-3.0],[-9.0,-0.8],[-8.6,-3.6],[-8.2,-0.5],[-7.8,-2.6],[-7.4,0.2],[-7.0,-1.2],
  [-6.6,-2.8],[-6.2,0.9],[-5.8,-1.6],[-5.4,1.2],[-5.0,-0.2],[-4.6,2.4],[-4.2,-1.6],[-3.8,1.7],[-3.4,-0.6],[-3.0,2.9],
  [-2.6,1.2],[-2.2,-0.9],[-1.8,3.0],[-1.4,0.4],[-1.0,2.3],[-0.6,4.0],[-0.2,1.6],[0.2,3.4],[0.6,4.4],[1.0,2.8],
  [1.4,5.0],[1.8,3.4],[2.2,1.9],[2.6,4.6],[3.0,6.0],[3.4,3.6],[3.8,5.2],[4.2,3.2],[4.6,6.2],[5.0,4.8],
  [5.4,6.8],[5.8,5.6],[6.2,4.2],[6.6,6.8],[7.0,5.9],[7.4,7.6],[7.8,6.0],[8.2,8.6],[8.6,6.8],[9.0,8.9],
  [9.4,7.2],[9.8,9.6],[10.2,7.0],[10.6,10.2],[11.0,8.1],[11.8,9.6],[12.4,11.4],[13.2,9.9],[-12.6,-5.4],[-11.0,-1.0],
  [-9.8,-2.8],[-8.9,-1.8],[-8.1,-3.1],[-7.3,-0.8],[-6.5,-1.9],[-5.7,0.6],[-4.9,-1.7],[-4.1,1.0],[-3.3,0.3],[-2.5,2.2],
  [-1.7,0.6],[-0.9,1.4],[-0.1,3.0],[0.7,2.0],[1.5,4.0],[2.3,2.4],[3.1,5.2],[3.9,3.9],[4.7,5.0],[5.5,6.2],
  [6.3,6.0],[7.1,7.0],[7.9,7.4],[8.7,8.0],[9.5,9.0],[10.3,8.9],[11.1,9.9],[-11.8,-2.8],[-10.6,-5.6],[-6.9,-5.8],
  [-3.9,2.8],[-1.3,4.8],[1.3,6.0],[4.3,7.6],[6.9,8.8],[8.4,10.0],
]
const et2VertFit: Pt[] = [[-20, -8.8], [20, 14.0]]

const BOX_W = 281
const BOX_H = 280
const PAD_L = 60
const PAD_T = 14
const PAD_R = 18
const PAD_B = 40

const Dot = (p: any) => (
  <circle cx={p.cx} cy={p.cy} r={1.8} fill="#fff" stroke="#151515" strokeWidth={1} />
)
const NoDot = () => <g />

function xTick(ticks: number[], labels: string[] | undefined, bigFifteen: boolean) {
  return (p: any) => {
    const i = ticks.indexOf(p.payload.value)
    const text = labels ? labels[i] : String(p.payload.value)
    const big = bigFifteen && text === '15'
    return (
      <text x={p.x} y={p.y} textAnchor="middle" fill={INK} fontFamily={FONT} fontSize={big ? 21 : 14.5} dy={big ? 12.3 : 10.3}>
        {text}
      </text>
    )
  }
}

function Panel({ left, top, data, fit, xTicks, yTicks, xLabels, bigFifteen }: {
  left: number; top: number; data: Pt[]; fit: Pt[]; xTicks: number[]; yTicks: number[]; xLabels?: string[]; bigFifteen?: boolean
}) {
  const rows = data.map(([x, y]) => ({ x, y }))
  const fitRows = fit.map(([x, y]) => ({ x, y }))
  const xDomain = [xTicks[0], xTicks[xTicks.length - 1]]
  const yDomain = [yTicks[0], yTicks[yTicks.length - 1]]
  const tickFn = xTick(xTicks, xLabels, !!bigFifteen)
  return (
    <div style={{ position: 'absolute', left: left - PAD_L, top: top - PAD_T }}>
      <ScatterChart
        width={BOX_W + PAD_L + PAD_R}
        height={BOX_H + PAD_T + PAD_B}
        margin={{ top: PAD_T - 1, right: PAD_R - 1, bottom: 0, left: 0 }}
      >
        <XAxis xAxisId="b" type="number" dataKey="x" domain={xDomain} ticks={xTicks} allowDataOverflow interval={0}
          height={PAD_B} tickSize={-3} tickMargin={11} stroke={FRAME} tick={tickFn} />
        <XAxis xAxisId="t" orientation="top" type="number" dataKey="x" domain={xDomain} ticks={xTicks} allowDataOverflow interval={0}
          height={1} tickSize={-3} tick={false} stroke={FRAME} />
        <YAxis yAxisId="l" type="number" dataKey="y" domain={yDomain} ticks={yTicks} allowDataOverflow interval={0}
          width={PAD_L} tickSize={-3} tickMargin={10} stroke={FRAME}
          tick={{ fill: INK, fontSize: 14.5, fontFamily: FONT }} />
        <YAxis yAxisId="r" orientation="right" type="number" dataKey="y" domain={yDomain} ticks={yTicks} allowDataOverflow interval={0}
          width={1} tickSize={-3} tick={false} stroke={FRAME} />
        <Scatter xAxisId="b" yAxisId="l" data={rows} shape={Dot} isAnimationActive={false} />
        <Scatter xAxisId="t" yAxisId="r" data={fitRows} shape={NoDot} line={{ stroke: FIT_RED, strokeWidth: 1 }}
          lineType="joint" isAnimationActive={false} />
      </ScatterChart>
    </div>
  )
}

const LEFT_COL = 57
const RIGHT_COL = 446.7
const ROW_TOPS = [37.7, 429, 820.7]
const LETTERS = ['A', 'B', 'C']
const LETTER_BASE = [25, 417, 810]
const MONKEYS = ['Monkey XT1', 'Monkey ET1', 'Monkey ET2']
const MONKEY_BASE = [85.7, 476.7, 872.7]

export default function App() {
  return (
    <div style={{ position: 'absolute', left: 0, top: 0, width: 738, height: 1156, background: '#fff' }}>
      <Panel left={LEFT_COL} top={ROW_TOPS[0]} data={xt1Horiz} fit={xt1HorizFit} xTicks={ticks30} yTicks={ticks30} xLabels={xt1HorizTickLabels} />
      <Panel left={RIGHT_COL} top={ROW_TOPS[0]} data={xt1Vert} fit={xt1VertFit} xTicks={ticks20} yTicks={ticks20} bigFifteen />
      <Panel left={LEFT_COL} top={ROW_TOPS[1]} data={et1Horiz} fit={et1HorizFit} xTicks={ticks30} yTicks={ticks30} />
      <Panel left={RIGHT_COL} top={ROW_TOPS[1]} data={et1Vert} fit={et1VertFit} xTicks={ticks30} yTicks={ticks30} />
      <Panel left={LEFT_COL} top={ROW_TOPS[2]} data={et2Horiz} fit={et2HorizFit} xTicks={ticks30} yTicks={ticks30} />
      <Panel left={RIGHT_COL} top={ROW_TOPS[2]} data={et2Vert} fit={et2VertFit} xTicks={ticks20} yTicks={ticks20} />
      <svg width={738} height={1156} style={{ position: 'absolute', left: 0, top: 0, pointerEvents: 'none' }} fontFamily={FONT}>
        {ROW_TOPS.map((t, i) => (
          <g key={i}>
            <text x={1} y={LETTER_BASE[i]} fontSize={25} fontWeight="bold" fill="#000">{LETTERS[i]}</text>
            <text x={107} y={MONKEY_BASE[i]} fontSize={14} fill={INK}>{MONKEYS[i]}</text>
            <text transform={`translate(16.5,${t + 139}) rotate(-90)`} textAnchor="middle" fontSize={18.5} fill={INK}>
              Vertical Saccade Disconjugacy
            </text>
            <text transform={`translate(403,${t + 139}) rotate(-90)`} textAnchor="middle" fontSize={18.5} fill={INK}>
              Horizontal Saccade Disconjugacy
            </text>
            <text x={207.5} y={t + BOX_H + 49.5} textAnchor="middle" fontSize={18.5} fill={INK}>
              Horizontal Saccade Amplitude
            </text>
            <text x={592.5} y={t + BOX_H + 49.5} textAnchor="middle" fontSize={18.5} fill={INK}>
              Vertical Saccade Amplitude
            </text>
          </g>
        ))}
      </svg>
    </div>
  )
}
